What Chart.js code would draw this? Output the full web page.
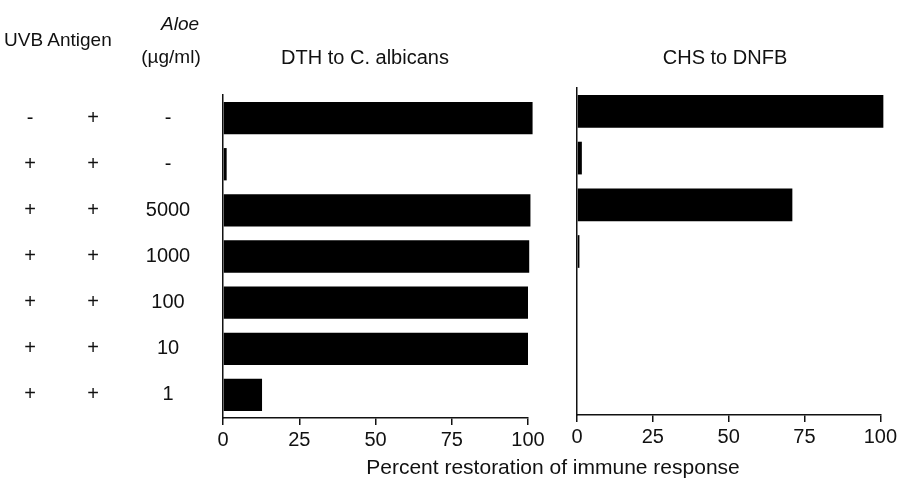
<!DOCTYPE html>
<html>
<head>
<meta charset="utf-8">
<script src="https://cdn.jsdelivr.net/npm/chart.js@4/dist/chart.umd.min.js"></script>
<style>
  body { margin: 0; background: #fff; }
  #wrap { position: relative; width: 900px; height: 480px; overflow: hidden;
          font-family: "Liberation Sans", Arial, sans-serif; color: #111; }
  canvas { position: absolute; top: 0; }
  .txt { position: absolute; white-space: nowrap; line-height: 22px; }
  .mid { transform: translateX(-50%); }
</style>
</head>
<body>
<div id="wrap">
  <canvas id="dth" width="550" height="480" style="left:0"></canvas>
  <canvas id="chs" width="350" height="480" style="left:550px"></canvas>

  <div class="txt" style="left:4px;top:29px;font-size:19px">UVB Antigen</div>
  <div class="txt mid" style="left:180px;top:13px;font-size:19px;font-style:italic">Aloe</div>
  <div class="txt mid" style="left:171px;top:46px;font-size:19px">(µg/ml)</div>
  <div class="txt mid" style="left:365px;top:46px;font-size:20px">DTH to C. albicans</div>
  <div class="txt mid" style="left:725px;top:46px;font-size:20px">CHS to DNFB</div>
  <div class="txt mid" style="left:553px;top:456px;font-size:21px">Percent restoration of immune response</div>
</div>

<script>
// row labels (left table)
const uvb = ['-', '+', '+', '+', '+', '+', '+'];
const antigen = ['+', '+', '+', '+', '+', '+', '+'];
const aloe = ['-', '-', '5000', '1000', '100', '10', '1'];

// percent restoration, one value per row
const dthValues = [101.5, 1.2, 100.8, 100.4, 100, 100, 12.8];
const chsValues = [101, 1.6, 71, 0.8, 0, 0, 0];

const xTicks = [0, 25, 50, 75, 100];

const rows = uvb.map((u, i) => u + ' ' + antigen[i] + ' ' + aloe[i]);

const FONT = '"Liberation Sans", Arial, sans-serif';
const INK = '#111';

// draws the three label columns next to the left panel, on the y scale rows
const rowLabels = {
    id: 'rowLabels',
    afterDraw(chart) {
        const ctx = chart.ctx;
        const y = chart.scales.y;
        ctx.save();
        ctx.font = '20px ' + FONT;
        ctx.fillStyle = INK;
        ctx.textAlign = 'center';
        ctx.textBaseline = 'middle';
        rows.forEach((r, i) => {
            const py = y.getPixelForValue(i);
            ctx.fillText(uvb[i], 30, py);
            ctx.fillText(antigen[i], 93, py);
            ctx.fillText(aloe[i], 168, py);
        });
        ctx.restore();
    }
};

function makePanel(id, values, pad, axisHeight, plugins) {
    return new Chart(document.getElementById(id), {
        type: 'bar',
        data: {
            labels: rows,
            datasets: [{
                data: values,
                backgroundColor: '#000',
                borderWidth: 0,
                barPercentage: 0.7,
                categoryPercentage: 1,
                clip: false
            }]
        },
        options: {
            indexAxis: 'y',
            responsive: false,
            animation: false,
            layout: { padding: pad },
            plugins: { legend: { display: false }, tooltip: { enabled: false } },
            scales: {
                x: {
                    type: 'linear',
                    min: 0,
                    max: 100,
                    afterBuildTicks: s => { s.ticks = xTicks.map(v => ({ value: v })); },
                    afterFit: s => { s.height = axisHeight; },
                    ticks: { color: INK, font: { family: FONT, size: 20 }, padding: 3, maxRotation: 0 },
                    grid: { display: true, drawOnChartArea: false, drawTicks: true, tickLength: 7, color: INK, lineWidth: 1.5 },
                    border: { display: true, color: INK, width: 1.5 }
                },
                y: {
                    type: 'category',
                    afterFit: s => { s.width = 0; },
                    ticks: { display: false },
                    grid: { display: true, drawOnChartArea: false, drawTicks: false },
                    border: { display: true, color: INK, width: 1.5 }
                }
            }
        },
        plugins: plugins
    });
}

makePanel('dth', dthValues, { left: 223, right: 22, top: 95, bottom: 0 }, 62, [rowLabels]);
makePanel('chs', chsValues, { left: 27, right: 17, top: 88, bottom: 0 }, 65, []);
</script>
</body>
</html>
